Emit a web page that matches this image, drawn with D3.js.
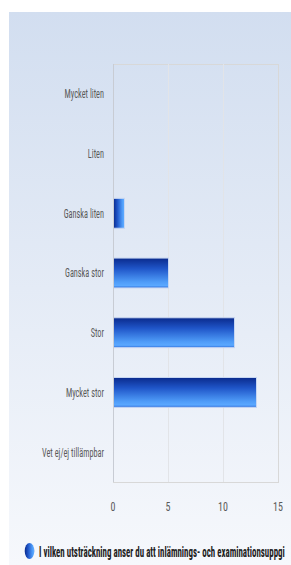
<!DOCTYPE html>
<html><head><meta charset="utf-8">
<script src="https://cdn.jsdelivr.net/npm/d3@7"></script>
<style>
html,body{margin:0;padding:0;background:#fff;}
svg{display:block;}
text{font-family:"Liberation Sans Narrow","Arial Narrow","Roboto Condensed",sans-serif;}
</style></head>
<body>
<svg id="chart" width="291" height="565"></svg>
<script>
const categories = ["Mycket liten","Liten","Ganska liten","Ganska stor","Stor","Mycket stor","Vet ej/ej tillämpbar"];
const values = [0,0,1,5,11,13,0];
const xTicks = [0,5,10,15];
const seriesName = "I vilken utsträckning anser du att inlämnings- och examinationsuppgi";

(function(){
const W = 291, H = 565;
const svg = d3.select("#chart");
const defs = svg.append("defs");

const bg = defs.append("linearGradient").attr("id","bg").attr("x1",0).attr("y1",0).attr("x2",0).attr("y2",1);
bg.append("stop").attr("offset","0%").attr("stop-color","#d2def0");
bg.append("stop").attr("offset","100%").attr("stop-color","#f6f8fc");

const stops = [["0%","#0a2a8c"],["35%","#1f55c8"],["80%","#4f9cf8"],["92%","#5aa8ff"],["100%","#2f6fdc"]];
const bar = defs.append("linearGradient").attr("id","bar").attr("x1",0).attr("y1",0).attr("x2",0).attr("y2",1);
stops.forEach(([o,c])=>bar.append("stop").attr("offset",o).attr("stop-color",c));
const barV = defs.append("linearGradient").attr("id","barV").attr("x1",0).attr("y1",0).attr("x2",1).attr("y2",0);
stops.forEach(([o,c])=>barV.append("stop").attr("offset",o).attr("stop-color",c));

svg.append("rect").attr("x",9).attr("y",12).attr("width",W-9).attr("height",H-12).attr("fill","url(#bg)");

const pl = 113, pr = 278, pt = 64, pb = 482;
const x = d3.scaleLinear().domain([0,15]).range([pl,pr]);
const y = d3.scaleBand().domain(categories).range([pt,pb]).paddingInner(0.5).paddingOuter(0.25);

svg.append("rect").attr("x",pl+0.5).attr("y",pt+0.5).attr("width",pr-pl).attr("height",pb-pt)
  .attr("fill","none").attr("stroke","#d8d8d8").attr("stroke-width",1);

svg.append("g").selectAll("line").data(xTicks.filter(d=>d>0&&d<15)).join("line")
  .attr("x1",d=>x(d)+0.5).attr("x2",d=>x(d)+0.5).attr("y1",pt).attr("y2",pb)
  .attr("stroke","#e2e4e8").attr("stroke-width",1);

svg.append("g").selectAll("rect").data(categories.map((c,i)=>({c,v:values[i]})).filter(d=>d.v>0)).join("rect")
  .attr("x",x(0)+0.5).attr("y",d=>y(d.c)).attr("width",d=>x(d.v)-x(0)).attr("height",y.bandwidth())
  .attr("fill",d=>d.v<2?"url(#barV)":"url(#bar)").attr("stroke","#c6d6f2").attr("stroke-width",1);

svg.append("line").attr("x1",pl+0.5).attr("x2",pl+0.5).attr("y1",pt).attr("y2",pb)
  .attr("stroke","#c8ccd4");

const labels = svg.append("g").selectAll("text").data(categories).join("text")
  .attr("x",104).attr("y",d=>y(d)+y.bandwidth()/2).attr("dy","0.35em")
  .attr("text-anchor","end").attr("font-size",12.5).attr("fill","#5a5a5a").text(d=>d);
let maxW = 0;
labels.each(function(){ maxW = Math.max(maxW, this.getComputedTextLength()); });
const f = 62 / maxW;
labels.each(function(){
  const w = this.getComputedTextLength();
  d3.select(this).attr("textLength", w*f).attr("lengthAdjust","spacingAndGlyphs");
});

svg.append("g").selectAll("text").data(xTicks).join("text")
  .attr("x",d=>x(d)).attr("y",507).attr("dy","0.35em")
  .attr("text-anchor","middle").attr("font-size",12.5).attr("fill","#5a5a5a").text(d=>d)
  .each(function(){ const w=this.getComputedTextLength(); d3.select(this).attr("textLength", w*0.8).attr("lengthAdjust","spacingAndGlyphs"); });

svg.append("ellipse").attr("cx",29.5).attr("cy",551).attr("rx",4.8).attr("ry",8).attr("fill","url(#barV)");
const lg = svg.append("g");
const lt = lg.append("text").attr("x",0).attr("y",0).attr("dy","0.35em").attr("font-size",14)
  .attr("font-weight","bold").attr("fill","#222").text(seriesName);
const nat = lt.node().getComputedTextLength();
lg.attr("transform", `translate(39,552) scale(${246/nat},1)`);
})();
</script>
</body></html>
